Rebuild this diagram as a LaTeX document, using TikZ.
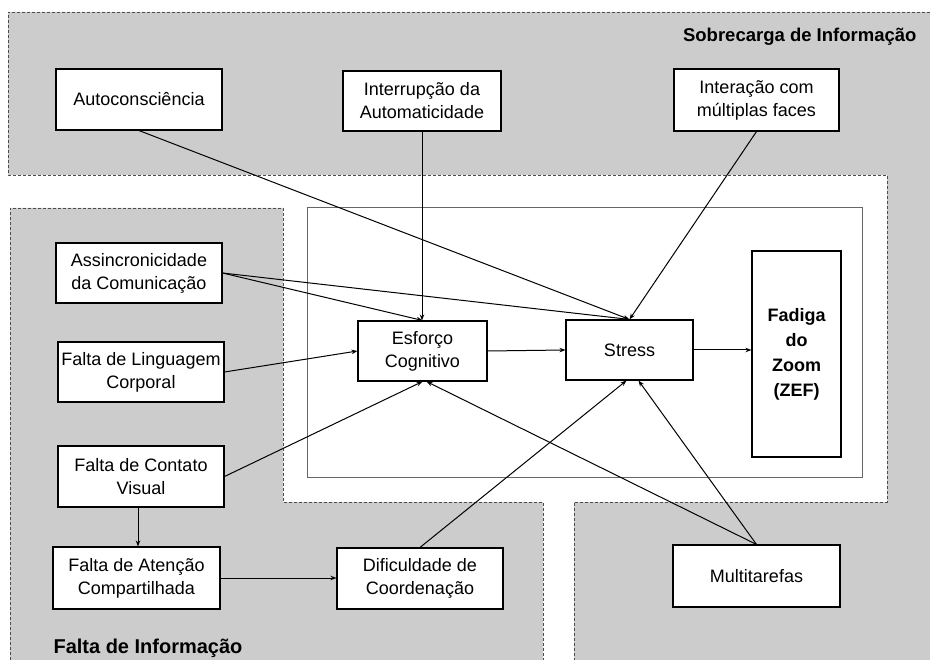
\documentclass[tikz,border=0pt]{standalone}
\usepackage{fontspec}
\setmainfont{Liberation Sans}
\usetikzlibrary{arrows.meta}
\definecolor{zona}{HTML}{CCCCCC}
\begin{document}
\begin{tikzpicture}[x=1pt,y=-1pt,
  box/.style={draw,fill=white,line width=1.1pt,inner sep=0pt,align=center,
    font=\fontsize{18}{23}\selectfont,minimum width=166pt,minimum height=61pt},
  zone/.style={draw=black!70,line width=0.8pt,dash pattern=on 3pt off 2pt},
  seta/.style={-{Stealth[length=6pt,width=4.5pt]},line width=1pt}]
\useasboundingbox (0,0) rectangle (930,660);
\fill[zona] (8,12) -- (930,12) -- (930,660) -- (574,660) -- (574,502) -- (887,502) -- (887,175) -- (8,175) -- cycle;
\draw[zone] (930,12) -- (8,12) -- (8,175) -- (887,175) -- (887,502) -- (574,502) -- (574,660);
\fill[zona] (10,208) -- (283,208) -- (283,502) -- (543,502) -- (543,660) -- (10,660) -- cycle;
\draw[zone] (10,660) -- (10,208) -- (283,208) -- (283,502) -- (543,502) -- (543,660);
\draw[black!60,line width=1pt,fill=white] (307,208) rectangle (862,478);
\node [font=\fontsize{18.5}{22}\selectfont\bfseries,anchor=base east] (sob) at (920,42) {Sobrecarga de Informação};
\node [font=\fontsize{20}{24}\selectfont\bfseries,anchor=base west] (fal) at (50,653) {Falta de Informação};
\node [box] (auto) at (139,99.5) {Autoconsciência};
\node [box,minimum width=158pt,minimum height=60pt] (intr) at (422,101) {Interrupção da\\Automaticidade};
\node [box,minimum width=165pt,minimum height=62pt] (inter) at (756.5,100) {Interação com\\múltiplas faces};
\node [box,minimum height=60pt] (assin) at (139,273) {Assincronicidade\\da Comunicação};
\node [box,minimum height=60pt] (ling) at (141,372) {Falta de Linguagem\\Corporal};
\node [box] (cont) at (141,476.5) {Falta de Contato\\Visual};
\node [box,minimum width=167pt,minimum height=62pt] (aten) at (136.5,578) {Falta de Atenção\\Compartilhada};
\node [box] (difi) at (420,578.5) {Dificuldade de\\Coordenação};
\node [box,minimum width=129pt,minimum height=60pt] (esf) at (422.5,351) {Esforço\\Cognitivo};
\node [box,minimum width=127pt,minimum height=60pt] (str) at (629.5,350) {Stress};
\node [box,minimum width=89pt,minimum height=206pt,font=\fontsize{18}{25}\selectfont\bfseries] (zef) at (796.5,354) {Fadiga\\do\\Zoom\\(ZEF)};
\node [box,minimum width=167pt,minimum height=62pt] (multi) at (756.5,576) {Multitarefas};
\draw [seta] (auto.south) -- (str.north);
\draw [seta] (intr.south) -- (intr.south |- esf.north);
\draw [seta] (inter.south) -- (str.north);
\draw [seta] (assin.east) -- (esf.north);
\draw [seta] (assin.east) -- (str.north);
\draw [seta] (ling.east) -- (esf.west);
\draw [seta] (cont.east) -- (esf.south);
\draw [seta] ([xshift=-3pt]cont.south) -- ([xshift=-3pt]cont.south |- aten.north);
\draw [seta] (aten.east) -- (aten.east -| difi.west);
\draw [seta] (difi.north) -- ([xshift=-3pt]str.south);
\draw [seta] (multi.north) -- ([xshift=4pt]esf.south);
\draw [seta] (multi.north) -- ([xshift=9pt]str.south);
\draw [seta] (esf.east) -- (str.west);
\draw [seta] (str.east) -- (str.east -| zef.west);
\end{tikzpicture}
\end{document}
